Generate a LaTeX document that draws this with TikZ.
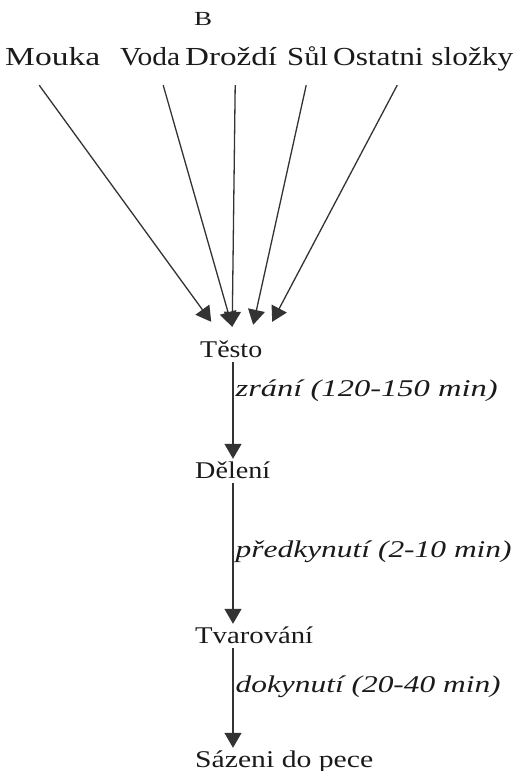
\documentclass[tikz,border=0pt]{standalone}
\usepackage{fontspec}
\setmainfont{Liberation Serif}
\usetikzlibrary{arrows.meta,calc}
\definecolor{ink}{HTML}{1A1A1A}
\definecolor{wire}{HTML}{333333}
% stretch a word to a given width, keeping its height
\newcommand{\fitw}[2]{\resizebox{#1}{\height}{#2}}

\begin{document}
\begin{tikzpicture}[x=1pt,y=-1pt,
  every node/.style={inner sep=0pt, text=ink},
  toplabel/.style={anchor=base west, font=\fontsize{26}{30}\selectfont, text height=18pt, text depth=6pt},
  stage/.style={anchor=base west, font=\fontsize{24}{28}\selectfont, text height=19pt, text depth=5pt},
  timelabel/.style={anchor=base west, font=\fontsize{24}{28}\selectfont\itshape, xshift=2pt},
  flow/.style={draw=wire, line width=1.3pt, -{Triangle[width=17pt,length=15pt]}},
]
\useasboundingbox (0,0) rectangle (518,771);

% panel letter
\node[font=\fontsize{20}{24}\selectfont, anchor=base west] (panel) at (194,25) {\fitw{18pt}{B}};

% ingredients
\node[toplabel] (mouka)   at (5,65)   {\fitw{95pt}{Mouka}};
\node[toplabel] (voda)    at (120,65) {\fitw{60pt}{Voda}};
\node[toplabel] (drozdi)  at (185,65) {\fitw{92pt}{Droždí}};
\node[toplabel] (sul)     at (287,65) {\fitw{41pt}{Sůl}};
\node[toplabel] (ostatni) at (333,65) {\fitw{180pt}{Ostatni složky}};

% process stages
\node[stage] (testo)     at (200,357) {\fitw{62pt}{Těsto}};
\node[stage] (deleni)    at (195,478) {\fitw{75pt}{Dělení}};
\node[stage] (tvarovani) at (195,643) {\fitw{118pt}{Tvarování}};
\node[stage] (sazeni)    at (195,767) {\fitw{178pt}{Sázeni do pece}};
\coordinate (spine) at (233,0);

% ingredients into the dough
\draw[flow] ([xshift=-13.5pt,yshift=-14pt]mouka.south)  -- ([xshift=-20pt,yshift=16pt]testo.north);
\draw[flow] ([xshift=13pt,yshift=-14pt]voda.south)      -- ([xshift=1pt,yshift=11pt]testo.north);
\draw[flow] ([xshift=4pt,yshift=-14pt]drozdi.south)     -- ([xshift=1pt,yshift=11pt]testo.north);
\draw[flow] ([xshift=-1.5pt,yshift=-14pt]sul.south)     -- ([xshift=22pt,yshift=13pt]testo.north);
\draw[flow] ([xshift=-26pt,yshift=-14pt]ostatni.south)  -- ([xshift=41pt,yshift=16pt]testo.north);

% main sequence
\draw[flow] (testo.south -| spine) --
  node[timelabel, pos=0.35] (t1) {\fitw{262pt}{zrání (120-150 min)}} (deleni.north -| spine);
\draw[flow] (deleni.south -| spine) --
  node[timelabel, pos=0.525] (t2) {\fitw{276pt}{předkynutí (2-10 min)}} (tvarovani.north -| spine);
\draw[flow] (tvarovani.south -| spine) --
  node[timelabel, pos=0.44] (t3) {\fitw{265pt}{dokynutí (20-40 min)}} (sazeni.north -| spine);
\end{tikzpicture}
\end{document}
